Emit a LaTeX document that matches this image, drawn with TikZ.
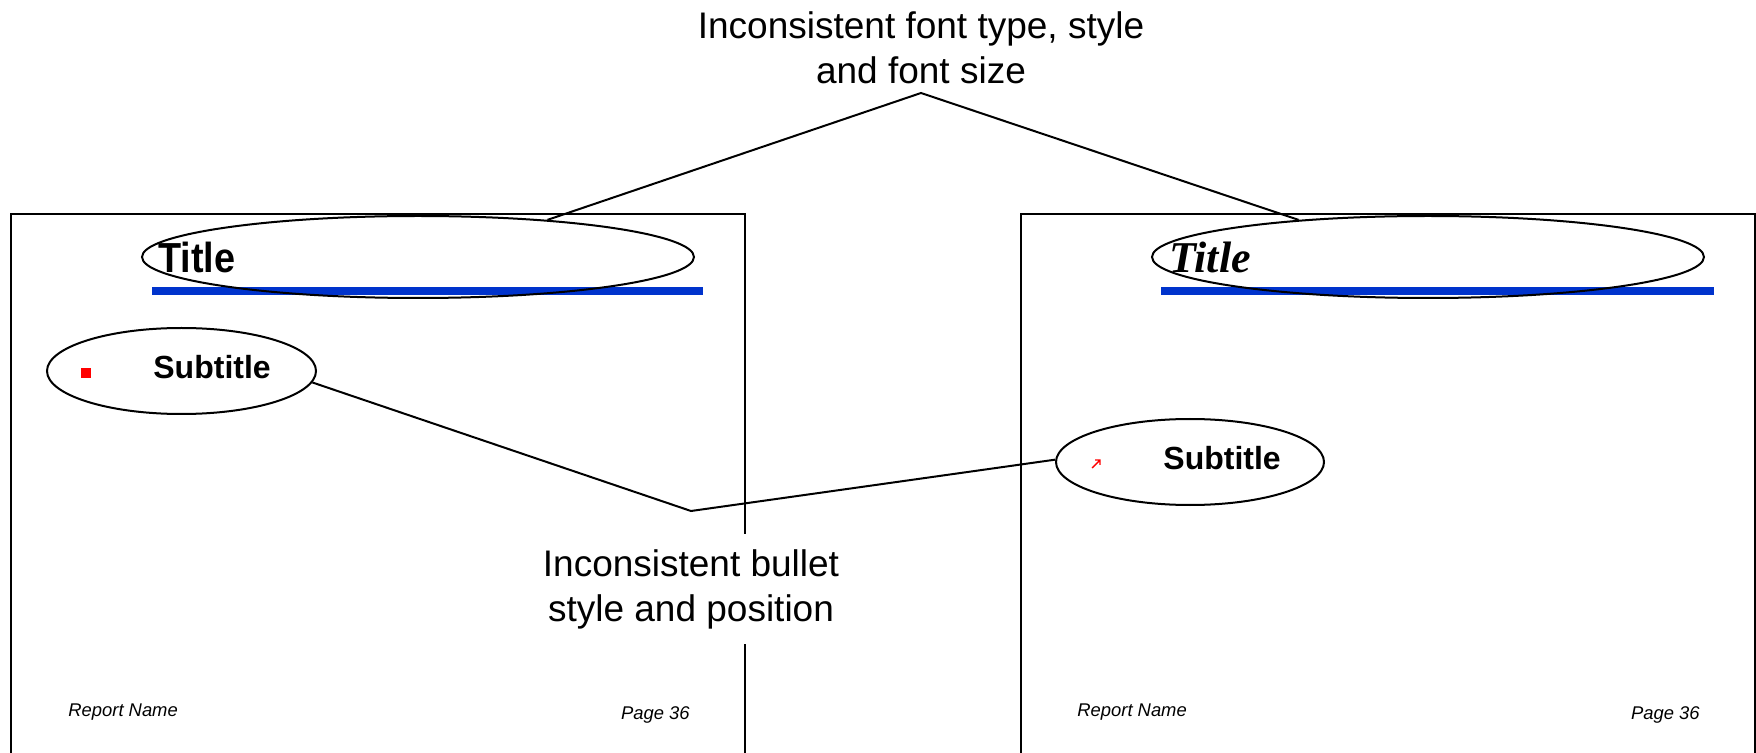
\documentclass[tikz,border=0pt]{standalone}
\usepackage{fontspec}
\setmainfont{Liberation Sans}
\newfontfamily\narrowsans[FakeStretch=0.9]{Liberation Sans}
\newfontfamily\romanfont{Liberation Serif}
\usetikzlibrary{shapes.geometric}
\definecolor{ruleblue}{RGB}{0,51,204}

\begin{document}
\begin{tikzpicture}[x=0.5pt,y=-0.5pt,
  page/.style={draw,line width=1pt},
  ring/.style={draw,ellipse,line width=1pt,inner sep=0pt},
  bar/.style={ruleblue,line width=4pt},
  link/.style={line width=1pt},
  remark/.style={align=center,font=\fontsize{18.5}{22.5}\selectfont},
  subhead/.style={anchor=base west,inner sep=0pt,font=\fontsize{16}{19}\selectfont\bfseries},
  footer/.style={inner sep=0pt,font=\fontsize{9.2}{11}\selectfont\itshape}]
  \clip (0,0) rectangle (1756,753);
  % the two slides
  \draw[page] (11,214) rectangle (745,800);
  \draw[page] (1021,214) rectangle (1755,800);
  \draw[bar] (152,291) -- (703,291);
  \draw[bar] (1161,291) -- (1714,291);
  % left slide
  \node[anchor=base west,inner sep=0pt,font=\fontsize{21}{25}\selectfont\narrowsans\bfseries] (titleL) at (158,273) {Title};
  \node[ring,minimum width=276pt,minimum height=41pt] (titleringL) at (418,257) {};
  \node[fill=red,inner sep=0pt,minimum size=5pt] (bulletL) at (86,373) {};
  \node[subhead] (subL) at (153,379) {Subtitle};
  \node[ring,minimum width=134.5pt,minimum height=43pt] (subringL) at (181.5,371) {};
  \node[footer,anchor=base west] (reportL) at (68,716) {Report Name};
  \node[footer,anchor=base east] (pageL) at (690,719) {Page 36};
  % right slide
  \node[anchor=base west,inner sep=0pt,font=\fontsize{22}{26}\selectfont\romanfont\bfseries\itshape] (titleR) at (1169,273) {Title};
  \node[ring,minimum width=276pt,minimum height=41pt] (titleringR) at (1428,257) {};
  \draw[red,line width=0.7pt] (1092,468) -- (1100,460) (1095,460) -- (1100,460) -- (1100,465);
  \node[subhead] (subR) at (1163,470) {Subtitle};
  \node[ring,minimum width=134pt,minimum height=43pt] (subringR) at (1190,462) {};
  \node[footer,anchor=base west] (reportR) at (1077,716) {Report Name};
  \node[footer,anchor=base east] (pageR) at (1700,719) {Page 36};
  % callouts
  \node[remark,inner sep=0pt] (fontnote) at (921,48) {Inconsistent font type, style\\and font size};
  \coordinate (fontapex) at (921,93);
  \draw[link] (titleringL.16.5) -- (fontapex) -- (titleringR.164);
  \coordinate (bulletapex) at (691,511);
  \draw[link] (subringL.-5) -- (bulletapex) -- (subringR.179);
  \node[remark,fill=white,inner sep=7.5pt] (bulletnote) at (691,589) {Inconsistent bullet\\style and position};
\end{tikzpicture}
\end{document}
